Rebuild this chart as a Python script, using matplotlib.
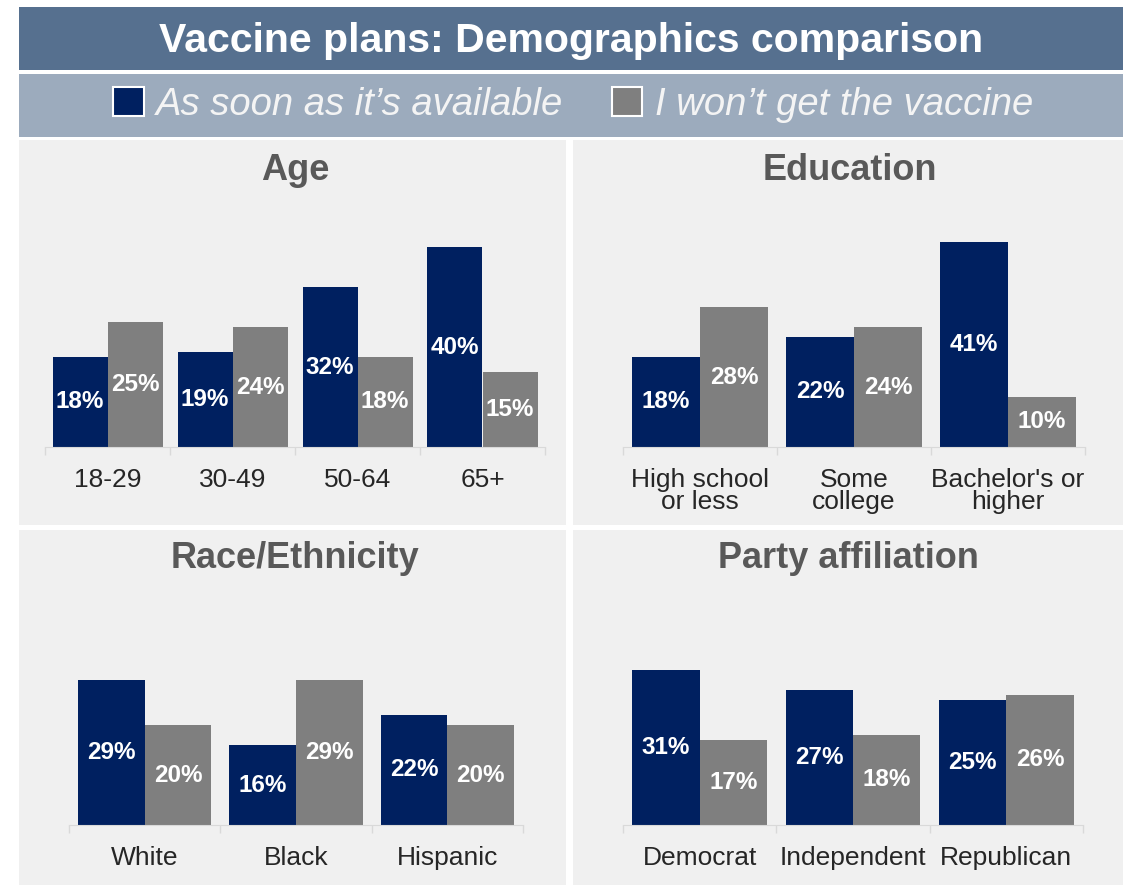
import matplotlib
matplotlib.use("Agg")
import matplotlib.pyplot as plt
from matplotlib.patches import Rectangle, Patch

plt.rcParams['font.family'] = ['Liberation Sans', 'DejaVu Sans']

# donnees
series_names = ["As soon as it\u2019s available", "I won\u2019t get the vaccine"]
series_colors = ["#002060", "#7f7f7f"]

age_cats = ["18-29", "30-49", "50-64", "65+"]
age_soon = [18, 19, 32, 40]
age_wont = [25, 24, 18, 15]

edu_cats = ["High school\nor less", "Some\ncollege", "Bachelor's or\nhigher"]
edu_soon = [18, 22, 41]
edu_wont = [28, 24, 10]

race_cats = ["White", "Black", "Hispanic"]
race_soon = [29, 16, 22]
race_wont = [20, 29, 20]

party_cats = ["Democrat", "Independent", "Republican"]
party_soon = [31, 27, 25]
party_wont = [17, 18, 26]

W, H = 1132, 889


def fbox(x0, y0, x1, y1):  # pixels -> fraction de la figure
    return [x0 / W, 1 - y1 / H, (x1 - x0) / W, (y1 - y0) / H]


def rect(box, color, z=0):
    r = fbox(*box)
    fig.add_artist(Rectangle(r[:2], r[2], r[3], transform=fig.transFigure,
                             facecolor=color, edgecolor="none", zorder=z))


fig = plt.figure(figsize=(W / 100, H / 100), dpi=100)
fig.patch.set_facecolor("white")

# bandeaux du haut
rect((19, 7, 1123, 70), "#56708f")
rect((19, 74, 1123, 137), "#9cabbd")
fig.text(571 / W, 1 - 41 / H, "Vaccine plans: Demographics comparison", ha="center", va="center",
         fontsize=29.5, fontweight="bold", color="white")

# fonds gris des 4 panneaux
for b in [(19, 140, 566, 525), (573, 140, 1123, 525), (19, 530, 566, 885), (573, 530, 1123, 885)]:
    rect(b, "#f0f0f0")

handles = [Patch(facecolor=c, edgecolor="white", linewidth=1.5) for c in series_colors]
leg = fig.legend(handles, series_names, loc="center", bbox_to_anchor=(573 / W, 1 - 105 / H), ncol=2,
                 frameon=False, handlelength=0.8, handleheight=0.8, handletextpad=0.33,
                 columnspacing=1.26, prop={"style": "italic", "size": 27.5})
for t in leg.get_texts():
    t.set_color("#f4f4f4")

panels = [
    ("Age", age_cats, age_soon, age_wont, (45, 197, 545, 447), (295, 171)),
    ("Education", edu_cats, edu_soon, edu_wont, (623, 197, 1085, 447), (850, 171)),
    ("Race/Ethnicity", race_cats, race_soon, race_wont, (69, 575, 523, 825), (295, 559)),
    ("Party affiliation", party_cats, party_soon, party_wont, (623, 575, 1083, 825), (848, 559)),
]

w = 0.44
for title, cats, soon, wont, box, tpos in panels:
    ax = fig.add_axes(fbox(*box))
    ax.set_facecolor("none")
    x = list(range(len(cats)))
    b1 = ax.bar([i - w / 2 for i in x], soon, width=w, color=series_colors[0])
    b2 = ax.bar([i + w / 2 for i in x], wont, width=w, color=series_colors[1])
    for bars, vals in [(b1, soon), (b2, wont)]:
        ax.bar_label(bars, labels=[f"{v}%" for v in vals], label_type="center",
                     color="white", fontweight="bold", fontsize=17.5)
    ax.set_xlim(-0.5, len(cats) - 0.5)
    ax.set_ylim(0, 50)
    ax.set_yticks([])
    ax.set_xticks(x, cats, fontsize=19, color="#262626")
    for lbl in ax.get_xticklabels():
        lbl.set_linespacing(0.9)
    ax.set_xticks([i - 0.5 for i in range(len(cats) + 1)], minor=True)
    ax.tick_params(axis="x", which="major", length=0, pad=15)
    ax.tick_params(axis="x", which="minor", length=6, color="#d9d9d9", width=1)
    for s in ["top", "left", "right"]:
        ax.spines[s].set_visible(False)
    ax.spines["bottom"].set_color("#d9d9d9")
    fig.text(tpos[0] / W, 1 - tpos[1] / H, title, ha="center", va="center",
             fontsize=26, fontweight="bold", color="#595959")

fig.savefig("out.png", dpi=100)
